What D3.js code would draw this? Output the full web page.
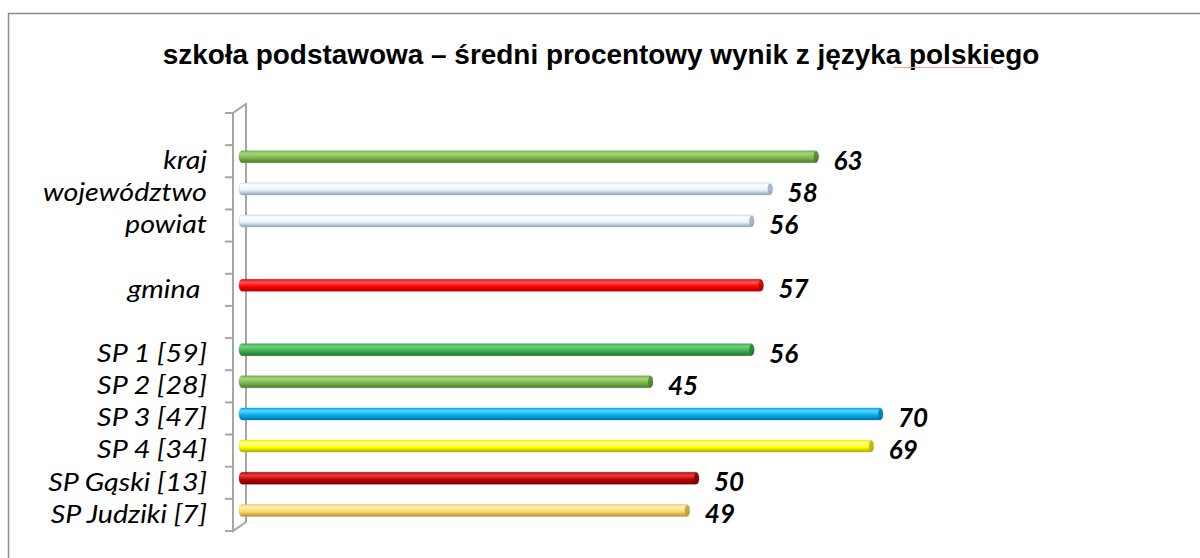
<!DOCTYPE html>
<html>
<head>
<meta charset="utf-8">
<script src="https://cdn.jsdelivr.net/npm/d3@7"></script>
<style>
  body { margin: 0; background: #fff; }
  svg { display: block; }
</style>
</head>
<body>
<div id="vis"></div>
<script>
var width = 1200, height = 558;

// data
var title = "szkoła podstawowa – średni procentowy wynik z języka polskiego";
var categories = ["", "kraj", "województwo", "powiat", " ", "gmina ", "  ",
                  "SP 1 [59]", "SP 2 [28]", "SP 3 [47]", "SP 4 [34]", "SP Gąski [13]", "SP Judziki [7]"];
var values = [null, 63, 58, 56, null, 57, null, 56, 45, 70, 69, 50, 49];
// [light, base, dark]
var barColors = [null,
  ["#a6d47c", "#79b64a", "#4b7a2a"],
  ["#ffffff", "#e8f0f9", "#8ea5c0"],
  ["#ffffff", "#e8f0f9", "#8ea5c0"],
  null,
  ["#ff5a5a", "#ff0000", "#b00000"],
  null,
  ["#72d07f", "#3cb34a", "#217330"],
  ["#a6d47c", "#79b64a", "#4b7a2a"],
  ["#5fd4ff", "#00b0f0", "#00729e"],
  ["#ffff9a", "#ffff00", "#a9a900"],
  ["#e64040", "#c00000", "#760000"],
  ["#fff0b0", "#ffd966", "#b6933a"]];

var svg = d3.select("#vis").append("svg").attr("width", width).attr("height", height);

// outer frame
svg.append("rect").attr("x", 8.5).attr("y", 13.5).attr("width", 1220).attr("height", 600)
   .attr("fill", "none").attr("stroke", "#8c8c8c").attr("stroke-width", 1.5);

// pick a font size so the text spans the measured width
function fitSize(sel, size, target) {
  var len = sel.node().getComputedTextLength();
  return size * target / len;
}

var t = svg.append("text")
   .attr("font-family", "Liberation Sans, Arial, sans-serif")
   .attr("font-weight", "bold").attr("font-size", 20)
   .attr("text-anchor", "middle")
   .attr("x", 601).attr("y", 64)
   .text(title);
t.attr("font-size", fitSize(t, 20, 877));

// spell check squiggle
svg.append("line").attr("x1", 893).attr("x2", 993).attr("y1", 67.5).attr("y2", 67.5)
   .attr("stroke", "#f0a0a0").attr("stroke-width", 1);

var y = d3.scaleBand().domain(d3.range(categories.length)).range([113, 531]).padding(0);
var x = d3.scaleLinear().domain([0, 100]).range([239, 1159]);

var depthX = 13, depthY = -9;
var axisX = 233;

// 3d wall
var ag = svg.append("g").attr("stroke", "#a6a6a6").attr("stroke-width", 2).attr("fill", "none");
ag.append("path").attr("d",
  "M" + axisX + "," + y.range()[0] + "L" + axisX + "," + y.range()[1] +
  "L" + (axisX + depthX) + "," + (y.range()[1] + depthY) +
  "L" + (axisX + depthX) + "," + (y.range()[0] + depthY) + "Z");
var ticks = d3.range(categories.length + 1).map(function(i){ return 113 + i * y.step(); });
ag.selectAll("line.tk").data(ticks).enter().append("line").attr("class", "tk")
  .attr("x1", axisX - 8).attr("x2", axisX).attr("y1", function(d){ return d; }).attr("y2", function(d){ return d; });

// gradients
var defs = svg.append("defs");
barColors.forEach(function(c, i){
  if (!c) return;
  var g = defs.append("linearGradient").attr("id", "grad" + i)
    .attr("x1", 0).attr("x2", 0).attr("y1", 0).attr("y2", 1);
  g.append("stop").attr("offset", "0%").attr("stop-color", c[1]);
  g.append("stop").attr("offset", "25%").attr("stop-color", c[0]);
  g.append("stop").attr("offset", "60%").attr("stop-color", c[1]);
  g.append("stop").attr("offset", "100%").attr("stop-color", c[2]);
});

var barH = 12, shiftUp = 4.5;
var dat = values.map(function(v, i){ return {i: i, v: v, c: barColors[i]}; })
                .filter(function(d){ return d.v != null; });
function cy(d){ return y(d.i) + y.bandwidth() / 2 - shiftUp; }

var bars = svg.append("g").attr("id", "barsg");
bars.selectAll("rect").data(dat).enter().append("rect")
   .attr("x", x(0))
   .attr("y", function(d){ return cy(d) - barH / 2; })
   .attr("width", function(d){ return x(d.v) - x(0); })
   .attr("height", barH)
   .attr("rx", 3).attr("ry", 6)
   .attr("fill", function(d){ return "url(#grad" + d.i + ")"; })
   .attr("stroke", function(d){ return d.c[2]; })
   .attr("stroke-opacity", 0.35).attr("stroke-width", 0.8);
// cylinder end caps
bars.selectAll("ellipse").data(dat).enter().append("ellipse")
   .attr("cx", function(d){ return x(d.v) - 2.5; })
   .attr("cy", cy)
   .attr("rx", 2.5).attr("ry", barH / 2 - 0.5)
   .attr("fill", function(d){ return d.c[2]; })
   .attr("fill-opacity", 0.75);

// value labels
svg.append("g").selectAll("text").data(dat).enter().append("text")
   .attr("x", function(d){ return x(d.v) + 15; })
   .attr("y", function(d){ return cy(d) + 13; })
   .attr("font-family", "Lato, sans-serif")
   .attr("font-weight", "bold").attr("font-style", "italic").attr("font-size", 26)
   .attr("fill", "#000")
   .text(function(d){ return d.v; });

// category labels (Lato, slightly widened to the reference's width)
var fs = 26;
var lg = svg.append("g");
var labels = lg.selectAll("text").data(categories).enter().append("text")
   .attr("font-family", "Lato, sans-serif")
   .attr("font-style", "italic").attr("font-size", fs)
   .attr("text-anchor", "end")
   .attr("xml:space", "preserve")
   .style("white-space", "pre")
   .text(function(d){ return d; });
var sx = fitSize(labels.filter(function(d, i){ return i === 2; }), 1, 164);
labels.attr("transform", function(d, i){
  return "translate(207," + (y(i) + y.bandwidth() / 2 + fs * 0.3) + ") scale(" + sx + ",1)";
});
</script>
</body>
</html>
